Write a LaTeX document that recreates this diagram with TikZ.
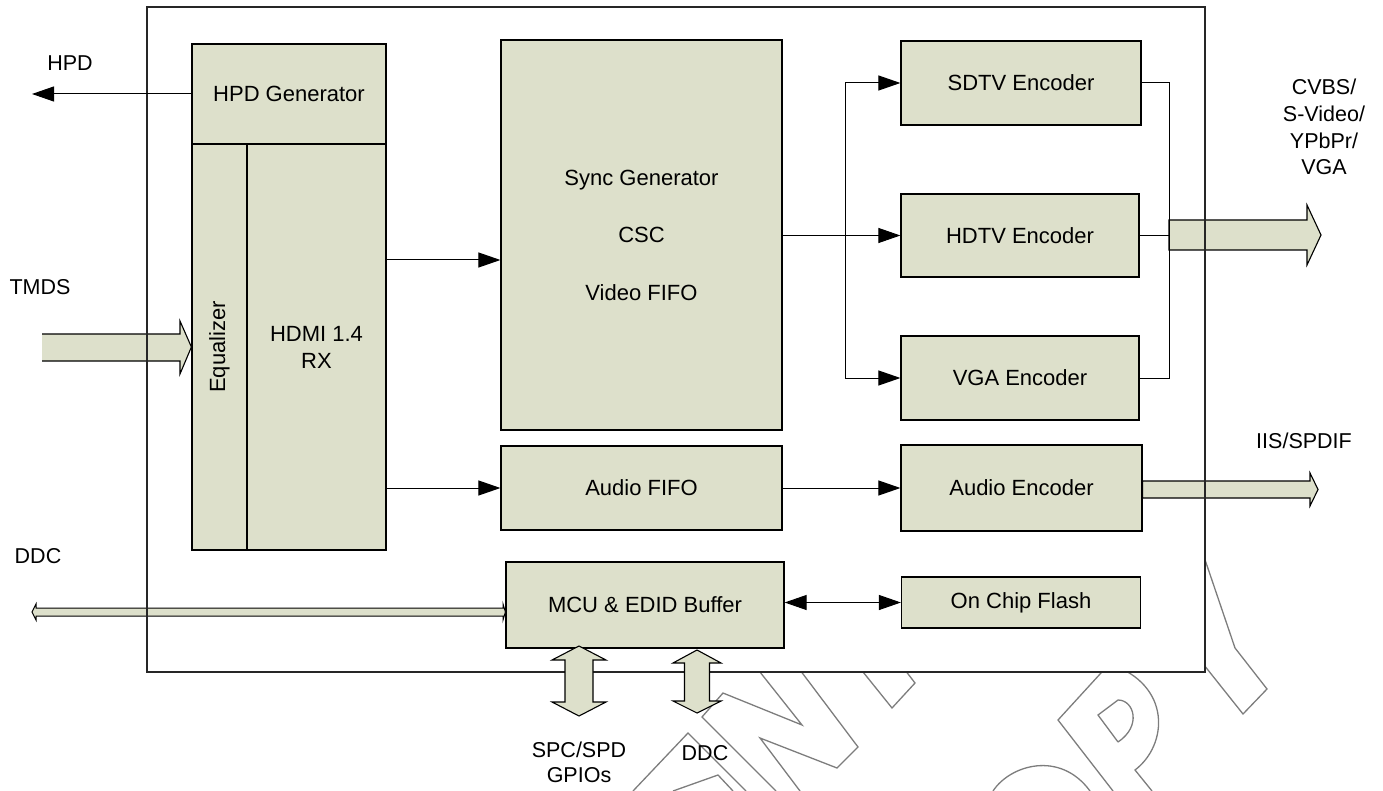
\documentclass[tikz,border=0pt]{standalone}
\usepackage{fontspec}
\setmainfont{Liberation Sans}
\usetikzlibrary{arrows.meta}
\definecolor{boxfill}{RGB}{221,224,203}
\definecolor{wm}{RGB}{125,125,125}
\begin{document}
\begin{tikzpicture}[x=1pt,y=-1pt,
  blk/.style={draw=black,line width=1.2pt,fill=boxfill,rectangle,inner sep=0pt,align=center,font=\fontsize{22}{27}\selectfont},
  lbl/.style={inner sep=0pt,align=center,font=\fontsize{21.5}{26.7}\selectfont},
  conn/.style={line width=1pt,-{Triangle[length=22pt,width=15pt]}},
  bidir/.style={line width=1pt,{Triangle[length=22pt,width=15pt]}-{Triangle[length=22pt,width=15pt]}},
  plain/.style={line width=1pt},
  barrow/.style={draw=black,line width=1.1pt,fill=boxfill,line join=miter},
  wmark/.style={draw=wm,line width=1.3pt}]
\path[use as bounding box] (0,0) rectangle (1383,791);

% watermark (behind the chip box)
\draw[wmark] (752,662) -- (802,725) -- (723,693) -- (702,717) -- (776,791);
\draw[wmark] (794,662) -- (858,747) -- (837,768) -- (760,738) -- (800,791);
\draw[wmark] (633,791) -- (688,733) -- (746,791);
\draw[wmark] (673,791) -- (718,775) -- (733,791);
\draw[wmark] (855,662) -- (892,708) -- (915,683) -- (905,670);
\draw[wmark] (1111,662) -- (1058,720) -- (1113,791);
\draw[wmark] (1118,742) -- (1098,715) -- (1118,700) .. controls (1134,700) and (1142,726) .. (1118,742);
\draw[wmark] (1110,664) .. controls (1172,685) and (1168,745) .. (1135,770) -- (1152,791);
\draw[wmark] (993,791) .. controls (1010,765) and (1060,750) .. (1090,791);
\draw[wmark] (1200,545) -- (1235,648) -- (1267,689) -- (1243,714) -- (1200,660);

% chip area
\fill[white] (147,7) rectangle (1205,672);

% coordinates for free ends and buses
\coordinate (hpdend) at (32,94);
\coordinate (bl) at (845,0);
\coordinate (br) at (1169,0);

% boxes
\node[blk,minimum width=194pt,minimum height=100pt] (hpd) at (289,94) {HPD Generator};
\node[blk,minimum width=55pt,minimum height=406pt] (eq) at (219.5,347) {};
\node[lbl,rotate=90,font=\fontsize{22}{27}\selectfont] (eqt) at (eq.center) {Equalizer};
\node[blk,minimum width=139pt,minimum height=406pt] (rx) at (316.5,347) {HDMI 1.4\\RX};
\node[blk,minimum width=281pt,minimum height=390pt,font=\fontsize{22}{57.5}\selectfont] (sync) at (641.5,235) {Sync Generator\\CSC\\Video FIFO};
\node[blk,minimum width=281pt,minimum height=84pt] (afifo) at (641.5,488) {Audio FIFO};
\node[blk,minimum width=278pt,minimum height=86pt] (mcu) at (645,605) {MCU \& EDID Buffer};
\node[blk,minimum width=240pt,minimum height=84pt] (sdtv) at (1021,83) {SDTV Encoder};
\node[blk,minimum width=238pt,minimum height=83pt] (hdtv) at (1020,235.5) {HDTV Encoder};
\node[blk,minimum width=238pt,minimum height=84pt] (vga) at (1020,378) {VGA Encoder};
\node[blk,minimum width=241pt,minimum height=86pt] (aenc) at (1021.5,488) {Audio Encoder};
\node[blk,minimum width=239pt,minimum height=51pt] (flash) at (1021,602.5) {On Chip Flash};

% block arrows crossing the chip edge
\fill[boxfill] (42,334) -- (180,334) -- (180,321) -- (eq.west) -- (180,374) -- (180,361) -- (42,361) -- cycle;
\draw[line width=1.1pt,line join=miter] (42,334) -- (180,334) -- (180,321) -- (eq.west) -- (180,374) -- (180,361) -- (42,361);
\draw[barrow] (br |- 0,220) -- (1307,220) -- (1307,205) -- (1321,235) -- (1307,265) -- (1307,250) -- (br |- 0,250) -- cycle;
\draw[barrow] (aenc.east |- 0,481) -- (1310,481) -- (1310,473) -- (1318,489.5) -- (1310,506) -- (1310,498) -- (aenc.east |- 0,498) -- cycle;
\draw[barrow,line width=1pt] (32,612) -- (36,604) -- (36,608) -- (503,608) -- (503,604) -- (mcu.west |- 0,612) -- (503,620) -- (503,616) -- (36,616) -- (36,620) -- cycle;

% chip border
\node[draw=black!85,line width=1.2pt,minimum width=1058pt,minimum height=665pt,inner sep=0pt] (chip) at (676,339.5) {};

% connectors
\draw[conn] (hpd.west) -- (hpdend);
\draw[conn] (rx.east |- 0,260) -- (sync.west |- 0,260);
\draw[conn] (rx.east |- afifo.west) -- (afifo.west);
\draw[conn] (afifo.east) -- (aenc.west);
\draw[conn] (sync.east |- hdtv.west) -- (hdtv.west);
\draw[conn] (bl |- sdtv.west) -- (bl |- vga.west) -- (vga.west);
\draw[conn] (bl |- sdtv.west) -- (sdtv.west);
\draw[plain] (sdtv.east) -- (br |- sdtv.east) -- (br |- vga.east) -- (vga.east);
\draw[plain] (hdtv.east) -- (br |- hdtv.east);
\draw[bidir] (mcu.east |- flash.west) -- (flash.west);

% vertical block arrows below MCU
\draw[barrow] (579,646) -- (606,660) -- (593,660) -- (593,702) -- (606,702) -- (579,716) -- (552,702) -- (565,702) -- (565,660) -- (552,660) -- cycle;
\draw[barrow] (697,650) -- (721,663) -- (709.5,663) -- (709.5,701) -- (721,701) -- (697,713) -- (673,701) -- (684.5,701) -- (684.5,663) -- (673,663) -- cycle;

% labels
\node[lbl] (lhpd) at (70,63) {HPD};
\node[lbl] (ltmds) at (40,287) {TMDS};
\node[lbl] (lddc) at (38,556) {DDC};
\node[lbl] (lcvbs) at (1324,127) {CVBS/\\S-Video/\\YPbPr/\\VGA};
\node[lbl] (liis) at (1304,441) {IIS/SPDIF};
\node[lbl,font=\fontsize{21.5}{25}\selectfont] (lspc) at (579,762) {SPC/SPD\\GPIOs};
\node[lbl] (lddc2) at (705,753) {DDC};
\end{tikzpicture}
\end{document}
